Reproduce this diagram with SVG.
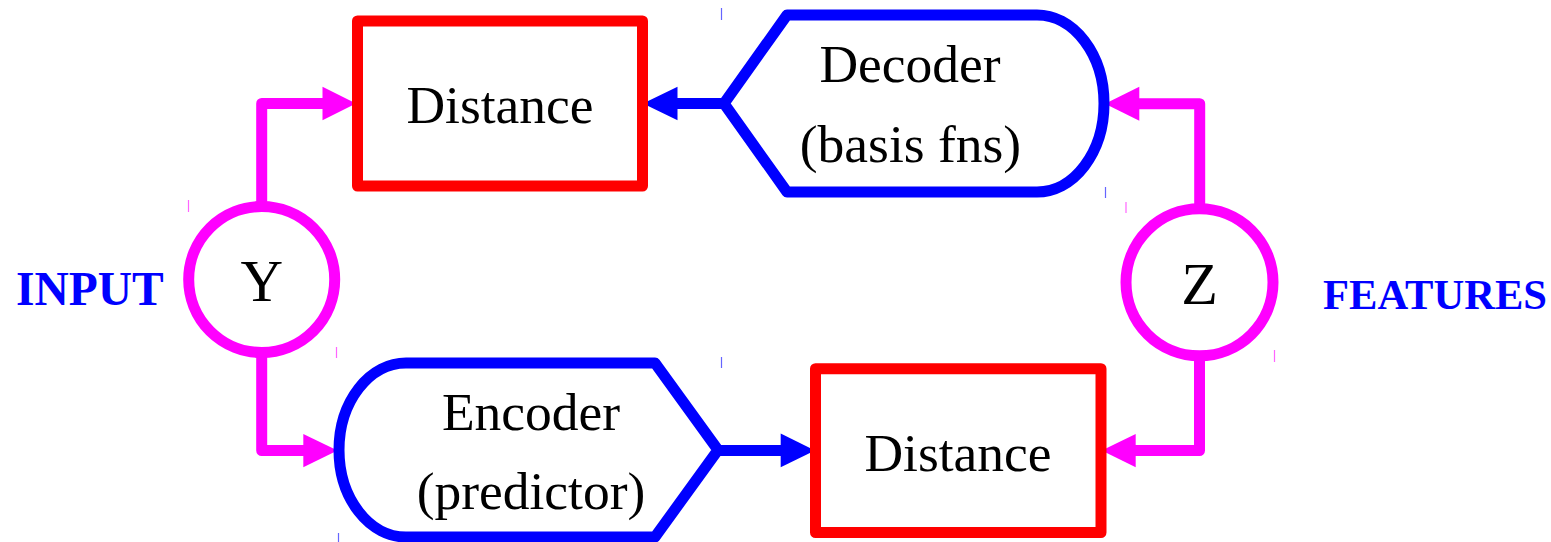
<svg xmlns="http://www.w3.org/2000/svg" width="1551" height="542" viewBox="0 0 1551 542">
<style>
.box{fill:none;stroke:#ff0000;stroke-width:11;stroke-linejoin:round}
.blk{fill:none;stroke:#0000ff;stroke-width:11;stroke-linejoin:round}
.circ{fill:none;stroke:#ff00ff;stroke-width:11}
.mline{fill:none;stroke:#ff00ff;stroke-width:11;stroke-linejoin:round}
.bline{fill:none;stroke:#0000ff;stroke-width:11}
.mhead{fill:#ff00ff}
.bhead{fill:#0000ff}
.lbl{font-family:"Liberation Serif","Times New Roman",serif;fill:#000;text-anchor:middle}
.side{font-family:"Liberation Serif","Times New Roman",serif;font-weight:bold;fill:#0000ff}
.tick{stroke-width:1.2;opacity:0.6}
</style>
<rect width="1551" height="542" fill="#fff"/>
<g id="ticks">
<line class="tick" x1="188.5" y1="200" x2="188.5" y2="212" stroke="#ff00ff"/>
<line class="tick" x1="336.5" y1="347" x2="336.5" y2="358" stroke="#ff00ff"/>
<line class="tick" x1="721.5" y1="8" x2="721.5" y2="20" stroke="#0000ff"/>
<line class="tick" x1="1105.5" y1="187" x2="1105.5" y2="198" stroke="#0000ff"/>
<line class="tick" x1="1126" y1="202" x2="1126" y2="213" stroke="#ff00ff"/>
<line class="tick" x1="1274.5" y1="350" x2="1274.5" y2="362" stroke="#ff00ff"/>
<line class="tick" x1="721.5" y1="357" x2="721.5" y2="368" stroke="#0000ff"/>
<line class="tick" x1="338.5" y1="533" x2="338.5" y2="542" stroke="#0000ff"/>
</g>
<g id="connectors">
<path class="mline" d="M261.7,206 V103.5 H324"/>
<polygon class="mhead" points="322.5,86.7 356,103.5 322.5,120.3"/>
<path class="mline" d="M261.7,352 V450.5 H305"/>
<polygon class="mhead" points="303.3,434 337.5,450.5 303.3,467.3"/>
<path class="mline" d="M1199.7,209 V103.7 H1137"/>
<polygon class="mhead" points="1139.3,86.7 1105,103.7 1139.3,120.7"/>
<path class="mline" d="M1199.5,356 V450.5 H1134"/>
<polygon class="mhead" points="1135.7,434 1101.7,450.5 1135.7,467.3"/>
<path class="bline" d="M724,103.5 H676"/>
<polygon class="bhead" points="677.5,86.7 643,103.5 677.5,120.3"/>
<path class="bline" d="M718,450.5 H783"/>
<polygon class="bhead" points="780.7,433.5 815,450.5 780.7,467.3"/>
</g>
<g id="distance-top">
<rect class="box" x="357.5" y="21" width="285" height="165"/>
<text class="lbl" x="500" y="122.7" font-size="53.5">Distance</text>
</g>
<g id="decoder">
<path class="blk" d="M724,103.5 L787,15 L1037,15 A67,88.5 0 0 1 1037,192 L787,192 Z"/>
<text class="lbl" x="910" y="81.7" font-size="53.5">Decoder</text>
<text class="lbl" x="910.5" y="161.7" font-size="53.5">(basis fns)</text>
</g>
<g id="y-node">
<circle class="circ" cx="261.7" cy="279.5" r="73"/>
<text class="lbl" x="261.7" y="300.7" font-size="59">Y</text>
</g>
<g id="z-node">
<circle class="circ" cx="1199.5" cy="282.3" r="73.5"/>
<text class="lbl" x="1199.5" y="303.5" font-size="60">Z</text>
</g>
<g id="encoder">
<path class="blk" d="M718,450 L655,363 L406,363 A67,87 0 0 0 406,537 L655,537 Z"/>
<text class="lbl" x="531" y="430" font-size="53.5">Encoder</text>
<text class="lbl" x="531" y="508.5" font-size="53.5">(predictor)</text>
</g>
<g id="distance-bottom">
<rect class="box" x="815.5" y="368.7" width="285.5" height="163.8"/>
<text class="lbl" x="958" y="470.7" font-size="53.5">Distance</text>
</g>
<g id="input-label">
<text class="side" x="16" y="305" font-size="47.5">INPUT</text>
</g>
<g id="features-label">
<text class="side" x="1323" y="309" font-size="43" textLength="224" lengthAdjust="spacingAndGlyphs">FEATURES</text>
</g>
</svg>
